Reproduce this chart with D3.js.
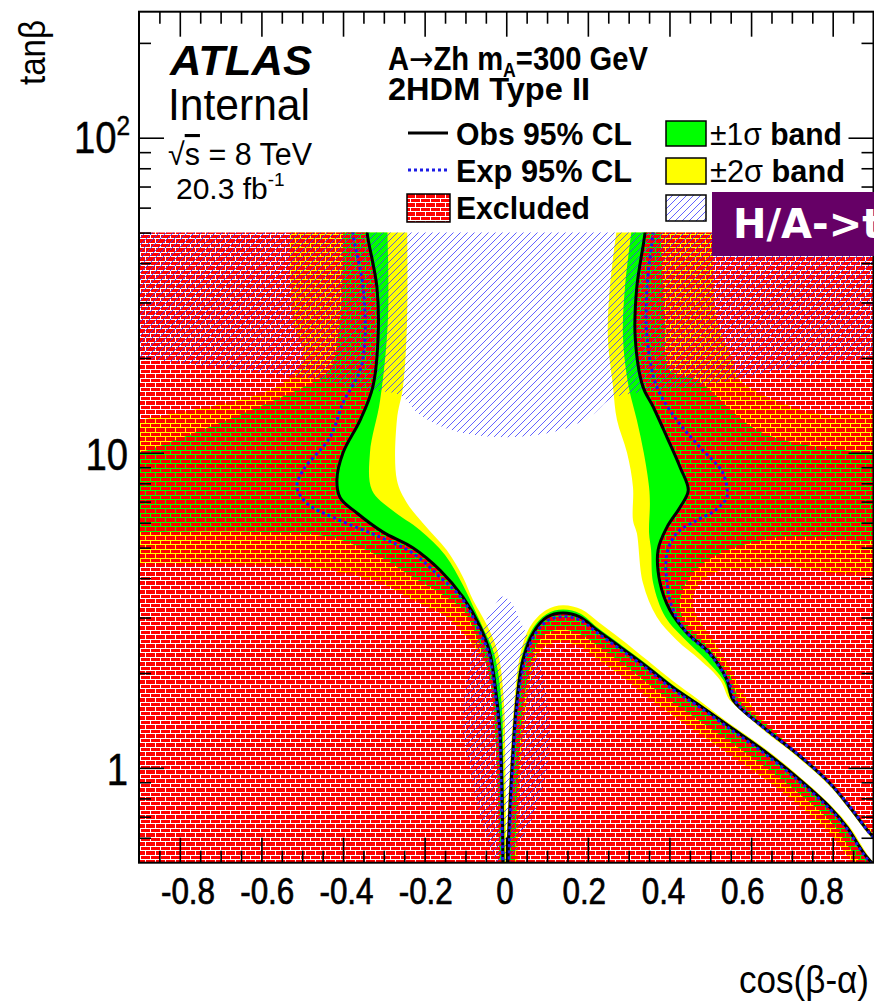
<!DOCTYPE html>
<html><head><meta charset="utf-8">
<script src="https://cdn.jsdelivr.net/npm/d3@7"></script>
<style>
body{margin:0;background:#fff}
svg{display:block}
text{font-family:"Liberation Sans",Arial,Helvetica,sans-serif}
</style>
</head><body>
<svg id="c" width="874" height="1002"></svg>
<script>
// ---------------- data (cos(beta-alpha), tan(beta)) ----------------
const xTickMajor = [-0.8,-0.6,-0.4,-0.2,0,0.2,0.4,0.6,0.8];
const xTickLabels = ["-0.8","-0.6","-0.4","-0.2","0","0.2","0.4","0.6","0.8"];
const xTickMinor = [-0.85,-0.75,-0.7,-0.65,-0.55,-0.5,-0.45,-0.35,-0.3,-0.25,-0.15,-0.1,-0.05,0.05,0.1,0.15,0.25,0.3,0.35,0.45,0.5,0.55,0.65,0.7,0.75,0.85];
const yTickMajor = [1,10,100];
const yTickLabels = ["1","10","10"];
const yTickMinor = [0.6,0.7,0.8,0.9,2,3,4,5,6,7,8,9,20,30,40,50,60,70,80,90,200];

// observed 95% CL contours
const obsLeft = [[-0.342,55],[-0.341,50],[-0.317,33.6],[-0.314,23.3],[-0.327,16.2],[-0.358,12.7],[-0.40,10.0],[-0.415,8.2],[-0.407,7.2],[-0.366,6.44],[-0.302,5.6],[-0.229,5.0],[-0.162,4.24],[-0.106,3.48],[-0.064,2.8],[-0.040,2.31],[-0.023,1.64],[-0.015,1.29],[-0.010,0.79],[-0.008,0.5],[-0.008,0.45]];
const obsLower = [[0.004,0.45],[0.004,0.5],[0.014,1.0],[0.026,1.64],[0.041,2.20],[0.066,2.68],[0.100,3.01],[0.139,3.10],[0.181,3.01],[0.222,2.74],[0.279,2.42],[0.345,2.09],[0.409,1.80],[0.467,1.60],[0.548,1.35],[0.629,1.14],[0.712,0.934],[0.793,0.75],[0.835,0.648],[0.884,0.52],[0.95,0.43]];
const obsRight = [[0.341,55],[0.340,50],[0.320,33.6],[0.316,23.3],[0.335,16.2],[0.36,14.0],[0.394,11.2],[0.426,9.0],[0.446,7.6],[0.426,6.72],[0.394,5.81],[0.372,4.91],[0.377,3.86],[0.401,3.17],[0.443,2.68],[0.499,2.31],[0.541,1.90],[0.556,1.64],[0.629,1.35],[0.712,1.11],[0.793,0.894],[0.842,0.75],[0.8915,0.62],[0.95,0.52]];

// expected 95% CL contours
const expLeft = [[-0.377,55],[-0.376,50],[-0.351,33.6],[-0.346,23.3],[-0.358,18.3],[-0.40,14.4],[-0.432,11.2],[-0.498,8.8],[-0.513,7.78],[-0.489,6.92],[-0.415,6.16],[-0.309,5.4],[-0.229,4.8],[-0.162,4.03],[-0.106,3.41],[-0.067,2.74],[-0.042,2.28],[-0.025,1.64],[-0.0165,1.29],[-0.0116,0.79],[-0.009,0.5],[-0.009,0.45]];
const expRight = [[0.36,55],[0.3595,50],[0.345,33.6],[0.345,23.3],[0.369,16.2],[0.418,12.7],[0.475,10.4],[0.531,8.62],[0.541,7.23],[0.531,6.92],[0.507,6.49],[0.4675,6.11],[0.418,5.56],[0.394,4.8],[0.394,3.86],[0.409,3.17],[0.443,2.68],[0.501,2.28],[0.546,1.86],[0.563,1.62],[0.634,1.33],[0.717,1.10],[0.798,0.88],[0.847,0.74],[0.9,0.60],[0.95,0.53]];
const expLower = [[0.006,0.45],[0.006,0.5],[0.016,1.0],[0.028,1.62],[0.044,2.15],[0.068,2.62],[0.101,2.93],[0.139,3.02],[0.18,2.95],[0.222,2.69],[0.279,2.38],[0.345,2.06],[0.409,1.77],[0.467,1.58],[0.548,1.33],[0.629,1.12],[0.712,0.92],[0.793,0.74],[0.835,0.64],[0.884,0.515],[0.95,0.42]];

// +-2 sigma bands (yellow)
const band2Left = [[-0.53,55],[-0.523,26.4],[-0.498,19.7],[-0.562,16.2],[-0.9,12.7],[-0.95,12.3],[-0.95,4.4],[-0.9,4.47],[-0.596,4.40],[-0.432,4.24],[-0.309,3.86],[-0.229,3.41],[-0.146,3.01],[-0.106,2.68],[-0.072,2.36],[-0.047,2.09],[-0.0325,1.64],[-0.0227,1.14],[-0.0178,0.5],[-0.017,0.45],
  [0.0,0.45],[0.0,0.5],[-0.002,1.0],[-0.006,1.64],[-0.02,2.31],[-0.045,2.8],[-0.0815,3.41],[-0.106,4.03],[-0.146,4.91],[-0.204,5.98],[-0.243,6.92],[-0.268,8.19],[-0.268,12.7],[-0.253,16.2],[-0.243,26.4],[-0.243,55]];
const band2Right = [[0.274,55],[0.254,33.6],[0.249,23.3],[0.2616,16.2],[0.2714,12.7],[0.296,10.0],[0.3106,7.78],[0.3106,6.11],[0.32,5.56],[0.335,3.86],[0.369,3.01],[0.418,2.54],[0.475,2.20],[0.524,1.90],[0.545,1.66],[0.556,1.60],[0.629,1.32],[0.712,1.086],[0.793,0.875],[0.842,0.734],[0.8915,0.607],[0.95,0.51],
  [0.95,0.6],[0.9,0.63],[0.842,0.77],[0.793,0.92],[0.712,1.13],[0.66,1.3],[0.615,1.49],[0.573,1.80],[0.548,2.09],[0.507,2.54],[0.458,3.24],[0.4675,3.75],[0.507,4.15],[0.671,4.34],[0.95,4.34],[0.95,12.6],[0.7517,13.37],[0.573,17.0],[0.5557,19.7],[0.5165,26.4],[0.507,55]];
const band2Lower = [[-0.001,0.45],[-0.001,0.5],[0.009,1.0],[0.02,1.64],[0.033,2.25],[0.058,2.8],[0.098,3.17],[0.139,3.28],[0.185,3.18],[0.225,2.91],[0.28,2.57],[0.345,2.2],[0.41,1.88],[0.467,1.66],[0.548,1.38],[0.629,1.165],[0.712,0.955],[0.793,0.767],[0.84,0.655],[0.9,0.5],[0.95,0.44],
  [0.95,0.4],[0.85,0.5],[0.793,0.62],[0.712,0.77],[0.629,0.93],[0.548,1.1],[0.467,1.3],[0.409,1.46],[0.345,1.68],[0.279,1.97],[0.222,2.22],[0.18,2.43],[0.139,2.5],[0.1,2.45],[0.075,2.25],[0.058,1.9],[0.045,1.4],[0.035,1.0],[0.028,0.5],[0.028,0.45]];

// +-1 sigma bands (green)
const band1Left = [[-0.40,55],[-0.4074,26.4],[-0.432,18.3],[-0.464,17.0],[-0.9,10.0],[-0.95,9.8],[-0.95,5.6],[-0.9,5.6],[-0.596,5.6],[-0.432,5.4],[-0.309,4.67],[-0.229,4.03],[-0.146,3.48],[-0.106,3.17],[-0.069,2.54],[-0.04,1.9],[-0.025,1.14],[-0.0165,0.5],[-0.016,0.45],
  [-0.004,0.45],[-0.004,0.5],[-0.007,1.0],[-0.012,1.64],[-0.03,2.31],[-0.058,2.8],[-0.077,3.17],[-0.106,3.8],[-0.15,4.74],[-0.211,5.68],[-0.28,6.58],[-0.329,7.61],[-0.334,10.0],[-0.309,14.7],[-0.29,26.4],[-0.292,55]];
const band1Right = [[0.3106,55],[0.291,33.6],[0.286,23.3],[0.30,16.2],[0.32,12.7],[0.337,10.0],[0.35,7.78],[0.352,6.92],[0.35,5.56],[0.355,4.91],[0.36,3.86],[0.39,3.01],[0.44,2.54],[0.49,2.20],[0.532,1.90],[0.55,1.66],[0.556,1.62],[0.629,1.335],[0.712,1.098],[0.793,0.884],[0.842,0.742],[0.8915,0.613],[0.95,0.52],
  [0.95,0.59],[0.9,0.61],[0.842,0.76],[0.793,0.90],[0.712,1.115],[0.645,1.35],[0.575,1.62],[0.545,2.0],[0.485,2.5],[0.432,3.0],[0.426,3.41],[0.45,4.03],[0.507,4.67],[0.671,5.4],[0.95,5.56],[0.95,10.0],[0.9,10.0],[0.629,11.55],[0.4675,17.0],[0.401,18.3],[0.389,26.4],[0.377,55]];
const band1Lower = [[0.001,0.45],[0.001,0.5],[0.012,1.0],[0.023,1.64],[0.037,2.22],[0.062,2.73],[0.099,3.08],[0.139,3.18],[0.181,3.09],[0.222,2.8],[0.279,2.47],[0.345,2.13],[0.409,1.83],[0.467,1.62],[0.548,1.365],[0.629,1.153],[0.712,0.944],[0.793,0.758],[0.835,0.655],[0.9,0.495],[0.95,0.44],
  [0.95,0.42],[0.87,0.5],[0.793,0.68],[0.712,0.84],[0.629,1.02],[0.548,1.21],[0.467,1.43],[0.409,1.61],[0.345,1.86],[0.279,2.17],[0.222,2.45],[0.18,2.66],[0.139,2.75],[0.1,2.68],[0.072,2.42],[0.055,2.0],[0.04,1.5],[0.03,1.0],[0.022,0.5],[0.022,0.45]];

// H/A -> tautau excluded regions (hatched)
const tautauUpper = [[-0.95,60],[0.95,60],[0.95,20.3],[0.9,20.0],[0.671,18.3],[0.507,16.6],[0.376,15.8],[0.259,14.9],[0.21,13.17],[0.149,11.98],[0.075,11.38],[0,11.2],[-0.077,11.38],[-0.15,11.98],[-0.211,13.17],[-0.261,15.25],[-0.334,15.8],[-0.481,17.2],[-0.702,18.6],[-0.9,20.0],[-0.95,20.3]];
const tautauLower = [[-0.008,3.5],[0.015,3.3],[0.041,2.8],[0.082,2.2],[0.107,1.35],[0.1,1.0],[0.075,0.75],[0.041,0.603],[0.009,0.5],[-0.005,0.45],[-0.023,0.5],[-0.064,0.697],[-0.089,1.0],[-0.106,1.29],[-0.101,1.765],[-0.082,2.36],[-0.057,2.8],[-0.03,3.25]];

// ---------------- drawing ----------------
const svg = d3.select("#c");
const x = d3.scaleLinear().domain([-0.9,0.9]).range([139,873.5]);
const y = d3.scaleLog().domain([0.5,251.2]).range([862.7,11.7]);
const xLabelPos = d3.scaleLinear().domain([-0.8,0.8]).range([188,822]);
const defs = svg.append("defs");

defs.append("clipPath").attr("id","dataClip").append("rect")
  .attr("x",x(-0.9)).attr("y",y(50)).attr("width",x(0.9)-x(-0.9)).attr("height",y(0.5)-y(50));

const brick = defs.append("pattern").attr("id","brick").attr("patternUnits","userSpaceOnUse").attr("width",10).attr("height",9);
brick.append("rect").attr("x",1).attr("y",1).attr("width",9).attr("height",3).attr("fill","#ff0000");
brick.append("rect").attr("x",0).attr("y",5).attr("width",5).attr("height",4).attr("fill","#ff0000");
brick.append("rect").attr("x",6).attr("y",5).attr("width",4).attr("height",4).attr("fill","#ff0000");

const hatch = defs.append("pattern").attr("id","hatch").attr("patternUnits","userSpaceOnUse").attr("width",7).attr("height",7);
hatch.append("path").attr("d","M-1,1 L1,-1 M0,7 L7,0 M6,8 L8,6").attr("stroke","#3a3aff").attr("stroke-width",0.8);

const lineGen = d3.line().x(d=>x(d[0])).y(d=>y(d[1])).curve(d3.curveCatmullRom.alpha(0.5));
const closedGen = d3.line().x(d=>x(d[0])).y(d=>y(d[1])).curve(d3.curveCatmullRomClosed.alpha(0.5));
const poly = pts => lineGen(pts) + "Z";

const g = svg.append("g").attr("clip-path","url(#dataClip)");
[band2Left,band2Right,band2Lower].forEach(p=>g.append("path").attr("d",poly(p)).attr("fill","#ffff00"));
[band1Left,band1Right,band1Lower].forEach(p=>g.append("path").attr("d",poly(p)).attr("fill","#00ff00"));

const allowed = obsLeft.concat(obsLower).concat(obsRight.slice().reverse());
const outer = `M${x(-1)},${y(70)}H${x(1)}V${y(0.4)}H${x(-1)}Z`;
g.append("path").attr("d", outer + poly(allowed)).attr("fill-rule","evenodd").attr("fill","url(#brick)");

g.append("path").attr("d",poly(tautauUpper)).attr("fill","url(#hatch)");
g.append("path").attr("d",closedGen(tautauLower)).attr("fill","url(#hatch)");

[obsLeft,obsLower,obsRight].forEach(p=>g.append("path").attr("d",lineGen(p)).attr("fill","none").attr("stroke","#000").attr("stroke-width",3));
[expLeft,expLower,expRight].forEach(p=>g.append("path").attr("d",lineGen(p)).attr("fill","none").attr("stroke","#1c1ce6").attr("stroke-width",3).attr("stroke-dasharray","3,3"));

// frame
svg.append("rect").attr("x",x(-0.9)).attr("y",y(251.2)).attr("width",x(0.9)-x(-0.9)).attr("height",y(0.5)-y(251.2))
  .attr("fill","none").attr("stroke","#000").attr("stroke-width",2);

// ticks via d3 axes
const tickStyle = sel => { sel.select(".domain").remove(); sel.selectAll("text").remove(); sel.selectAll("line").attr("stroke","#000").attr("stroke-width",1.6); };
svg.append("g").attr("transform",`translate(0,${y(0.5)})`).call(d3.axisBottom(x).tickValues(xTickMajor).tickSize(-25)).call(tickStyle);
svg.append("g").attr("transform",`translate(0,${y(0.5)})`).call(d3.axisBottom(x).tickValues(xTickMinor).tickSize(-12)).call(tickStyle);
svg.append("g").attr("transform",`translate(0,${y(251.2)})`).call(d3.axisTop(x).tickValues(xTickMajor).tickSize(-25)).call(tickStyle);
svg.append("g").attr("transform",`translate(0,${y(251.2)})`).call(d3.axisTop(x).tickValues(xTickMinor).tickSize(-12)).call(tickStyle);
svg.append("g").attr("transform",`translate(${x(-0.9)},0)`).call(d3.axisLeft(y).tickValues(yTickMajor).tickSize(-25)).call(tickStyle);
svg.append("g").attr("transform",`translate(${x(-0.9)},0)`).call(d3.axisLeft(y).tickValues(yTickMinor).tickSize(-12)).call(tickStyle);
svg.append("g").attr("transform",`translate(${x(0.9)},0)`).call(d3.axisRight(y).tickValues(yTickMajor).tickSize(-25)).call(tickStyle);
svg.append("g").attr("transform",`translate(${x(0.9)},0)`).call(d3.axisRight(y).tickValues(yTickMinor).tickSize(-12)).call(tickStyle);

// helper for (horizontally squeezed) text
function label(str, px, py, size, opt={}) {
  const t = svg.append("text").attr("transform",`translate(${px},${py}) scale(${opt.sx||1},1)`)
    .attr("font-size",size).attr("text-anchor",opt.anchor||"start")
    .attr("font-weight",opt.weight||"normal").attr("font-style",opt.style||"normal")
    .attr("fill",opt.fill||"#000");
  if (opt.family) t.style("font-family",opt.family);
  if (opt.stroke) t.attr("stroke",opt.fill||"#000").attr("stroke-width",opt.stroke);
  if (str!==null) t.text(str);
  return t;
}

// axis tick labels
xTickMajor.forEach((v,i)=>label(xTickLabels[i], xLabelPos(v), 904, 37, {anchor:"middle", sx:0.85, stroke:0.7}));
yTickMajor.forEach((v,i)=>{
  const t = label(yTickLabels[i], 128, y(v)+17, 44, {anchor:"end", sx:0.87, stroke:0.5});
  if (v===100) { t.text(null); t.append("tspan").text("10"); t.append("tspan").attr("font-size",28).attr("dy",-18).text("2"); t.attr("transform",`translate(130,${y(v)+15}) scale(0.87,1)`); }
});

// axis titles
svg.append("text").attr("transform","translate(45,20) rotate(-90)").attr("text-anchor","end")
  .attr("font-size",36).attr("textLength",65).attr("lengthAdjust","spacingAndGlyphs").text("tanβ");
svg.append("text").attr("x",869).attr("y",993).attr("text-anchor","end")
  .attr("font-size",38).attr("textLength",130).attr("lengthAdjust","spacingAndGlyphs").text("cos(β-α)");

// ATLAS labels
label("ATLAS",170,75,42,{weight:"bold",style:"italic"}).attr("textLength",142).attr("lengthAdjust","spacingAndGlyphs");
label("Internal",168,120,44).attr("textLength",142).attr("lengthAdjust","spacingAndGlyphs");
{
  const t = label(null,168,165,31); t.attr("textLength",144).attr("lengthAdjust","spacingAndGlyphs");
  t.append("tspan").text("√");
  t.append("tspan").style("text-decoration","overline").text("s");
  t.append("tspan").text(" = 8 TeV");
}
{
  const t = label(null,176,199,30);
  t.append("tspan").text("20.3 fb");
  t.append("tspan").attr("font-size",19).attr("dy",-13).text("-1");
}
{
  const t = label(null,388,70,33,{weight:"bold"});
  t.append("tspan").text("A");
  t.append("tspan").style("font-family","'DejaVu Sans',sans-serif").attr("font-weight","normal").text("→");
  t.append("tspan").text("Zh m");
  t.append("tspan").attr("font-size",20).attr("dy",7).text("A");
  t.append("tspan").attr("dy",-7).text("=300 GeV");
  const w = t.node().getComputedTextLength();
  t.attr("transform",`translate(388,70) scale(${260/w},1)`);
}
label("2HDM Type II",388,100,31,{weight:"bold"}).attr("textLength",202).attr("lengthAdjust","spacingAndGlyphs");

// legend
svg.append("line").attr("x1",408).attr("x2",448).attr("y1",133).attr("y2",133).attr("stroke","#000").attr("stroke-width",3);
svg.append("line").attr("x1",408).attr("x2",448).attr("y1",170).attr("y2",170).attr("stroke","#1c1ce6").attr("stroke-width",3).attr("stroke-dasharray","3,3");
svg.append("rect").attr("x",407).attr("y",194).attr("width",43).attr("height",28).attr("fill","url(#brick)").attr("stroke","#000").attr("stroke-width",1.5);
label("Obs 95% CL",456,145,31,{weight:"bold"}).attr("textLength",176).attr("lengthAdjust","spacingAndGlyphs");
label("Exp 95% CL",456,182,31,{weight:"bold"}).attr("textLength",176).attr("lengthAdjust","spacingAndGlyphs");
label("Excluded",456,219,31,{weight:"bold"}).attr("textLength",134).attr("lengthAdjust","spacingAndGlyphs");
svg.append("rect").attr("x",666).attr("y",121).attr("width",40).attr("height",25).attr("fill","#00ff00").attr("stroke","#000").attr("stroke-width",1.5);
svg.append("rect").attr("x",666).attr("y",158).attr("width",40).attr("height",26).attr("fill","#ffff00").attr("stroke","#000").attr("stroke-width",1.5);
svg.append("rect").attr("x",666).attr("y",195).attr("width",40).attr("height",26).attr("fill","url(#hatch)").attr("stroke","#000").attr("stroke-width",1.5);
{
  const t = label(null,710,145,31); t.attr("textLength",132).attr("lengthAdjust","spacingAndGlyphs");
  t.append("tspan").text("±1σ");
  t.append("tspan").attr("font-weight","bold").text(" band");
}
{
  const t = label(null,710,182,31); t.attr("textLength",135).attr("lengthAdjust","spacingAndGlyphs");
  t.append("tspan").text("±2σ");
  t.append("tspan").attr("font-weight","bold").text(" band");
}

// overlay tag
svg.append("rect").attr("x",712).attr("y",192).attr("width",170).attr("height",64).attr("fill","#660066");
label("H/A->t",733,238,40,{weight:"bold",fill:"#fff",family:"'DejaVu Sans',Verdana,sans-serif"});
</script>
</body></html>
